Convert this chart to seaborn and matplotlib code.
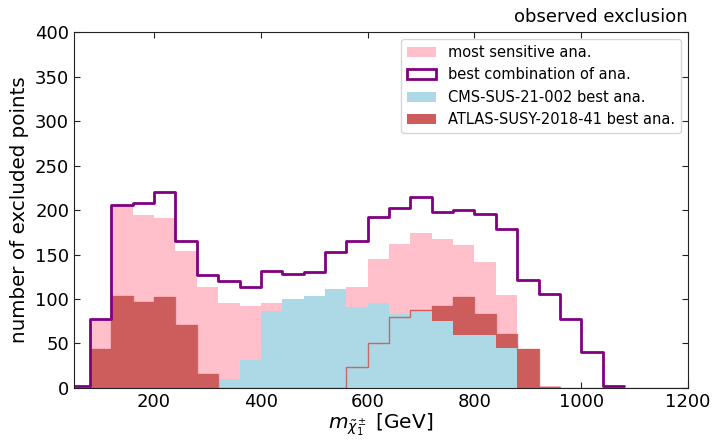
import numpy as np
import pandas as pd
import seaborn as sns
import matplotlib
matplotlib.use("Agg")
import matplotlib.pyplot as plt
from matplotlib.patches import Patch

# bins of 40 GeV, left edges 40 ... 1160
bin_width = 40
first_edge = 40

# most sensitive analysis
most_sensitive = [0, 78, 205, 194, 191, 154, 114, 96, 92, 95, 99, 102, 111, 113, 145,
                  162, 174, 167, 161, 142, 104, 44, 2, 0, 0, 0, 0, 0, 0]
# best combination of analyses (data stops at 1080 GeV)
best_combination = [2, 78, 206, 208, 220, 165, 127, 120, 113, 132, 128, 130, 153, 165,
                    192, 202, 215, 198, 200, 196, 179, 121, 106, 77, 40, 2]
# CMS-SUS-21-002
cms_best = [0, 0, 0, 0, 0, 0, 0, 10, 32, 86, 100, 103, 111, 91, 95,
            83, 87, 75, 60, 60, 45, 0, 0, 0, 0, 0, 0, 0, 0]
# ATLAS-SUSY-2018-41
atlas_best = [0, 44, 103, 97, 102, 71, 16, 0, 0, 0, 0, 0, 0, 24, 50,
              80, 88, 92, 102, 83, 61, 44, 1.5, 0, 0, 0, 0, 0, 0]

labels = ["most sensitive ana.", "best combination of ana.",
          "CMS-SUS-21-002 best ana.", "ATLAS-SUSY-2018-41 best ana."]


def draw(values, ax, **kw):
    n = len(values)
    centers = first_edge + bin_width * (np.arange(n) + 0.5)
    t = pd.DataFrame({"m": centers, "n": values})
    sns.histplot(t, x="m", weights="n", binwidth=bin_width,
                 binrange=(first_edge, first_edge + n * bin_width),
                 element="step", ax=ax, **kw)


sns.set_style("ticks")
plt.rcParams.update({
    "xtick.direction": "in", "ytick.direction": "in",
    "xtick.top": True, "ytick.right": True,
    "xtick.major.size": 4.5, "ytick.major.size": 4.5,
    "text.color": "black", "axes.labelcolor": "black",
    "xtick.color": "#222222", "ytick.color": "#222222",
    "xtick.labelcolor": "black", "ytick.labelcolor": "black",
    "axes.edgecolor": "#222222",
})

fig = plt.figure(figsize=(7.13, 4.41), dpi=100)
ax = fig.add_axes([0.1038, 0.1202, 0.8612, 0.8072])

draw(most_sensitive, ax, fill=True, color="pink", alpha=1, linewidth=0)
draw(atlas_best, ax, fill=True, color="indianred", alpha=1, linewidth=0)
draw(cms_best, ax, fill=True, color="lightblue", alpha=1, linewidth=0)
draw(atlas_best, ax, fill=False, color="indianred", alpha=0.9, linewidth=1.0)
draw(best_combination, ax, fill=False, color="purple", linewidth=2)

ax.set_xlim(50, 1200)
ax.set_ylim(0, 400)
ax.set_yticks(np.arange(0, 401, 50))
ax.set_xticks(np.arange(200, 1201, 200))
ax.tick_params(labelsize=13)
ax.set_xlabel(r"$m_{\tilde{\chi}_1^\pm}$ [GeV]", fontsize=14.5, labelpad=1)
ax.set_ylabel("number of excluded points", fontsize=14.3)
ax.set_title("observed exclusion", loc="right", fontsize=13, pad=7)

handles = [
    Patch(facecolor="pink", edgecolor="none"),
    Patch(facecolor="none", edgecolor="purple", linewidth=2),
    Patch(facecolor="lightblue", edgecolor="none"),
    Patch(facecolor="indianred", edgecolor="none"),
]
ax.legend(handles, labels, loc="upper right", fontsize=10.5)

fig.savefig("out.png", dpi=100)
